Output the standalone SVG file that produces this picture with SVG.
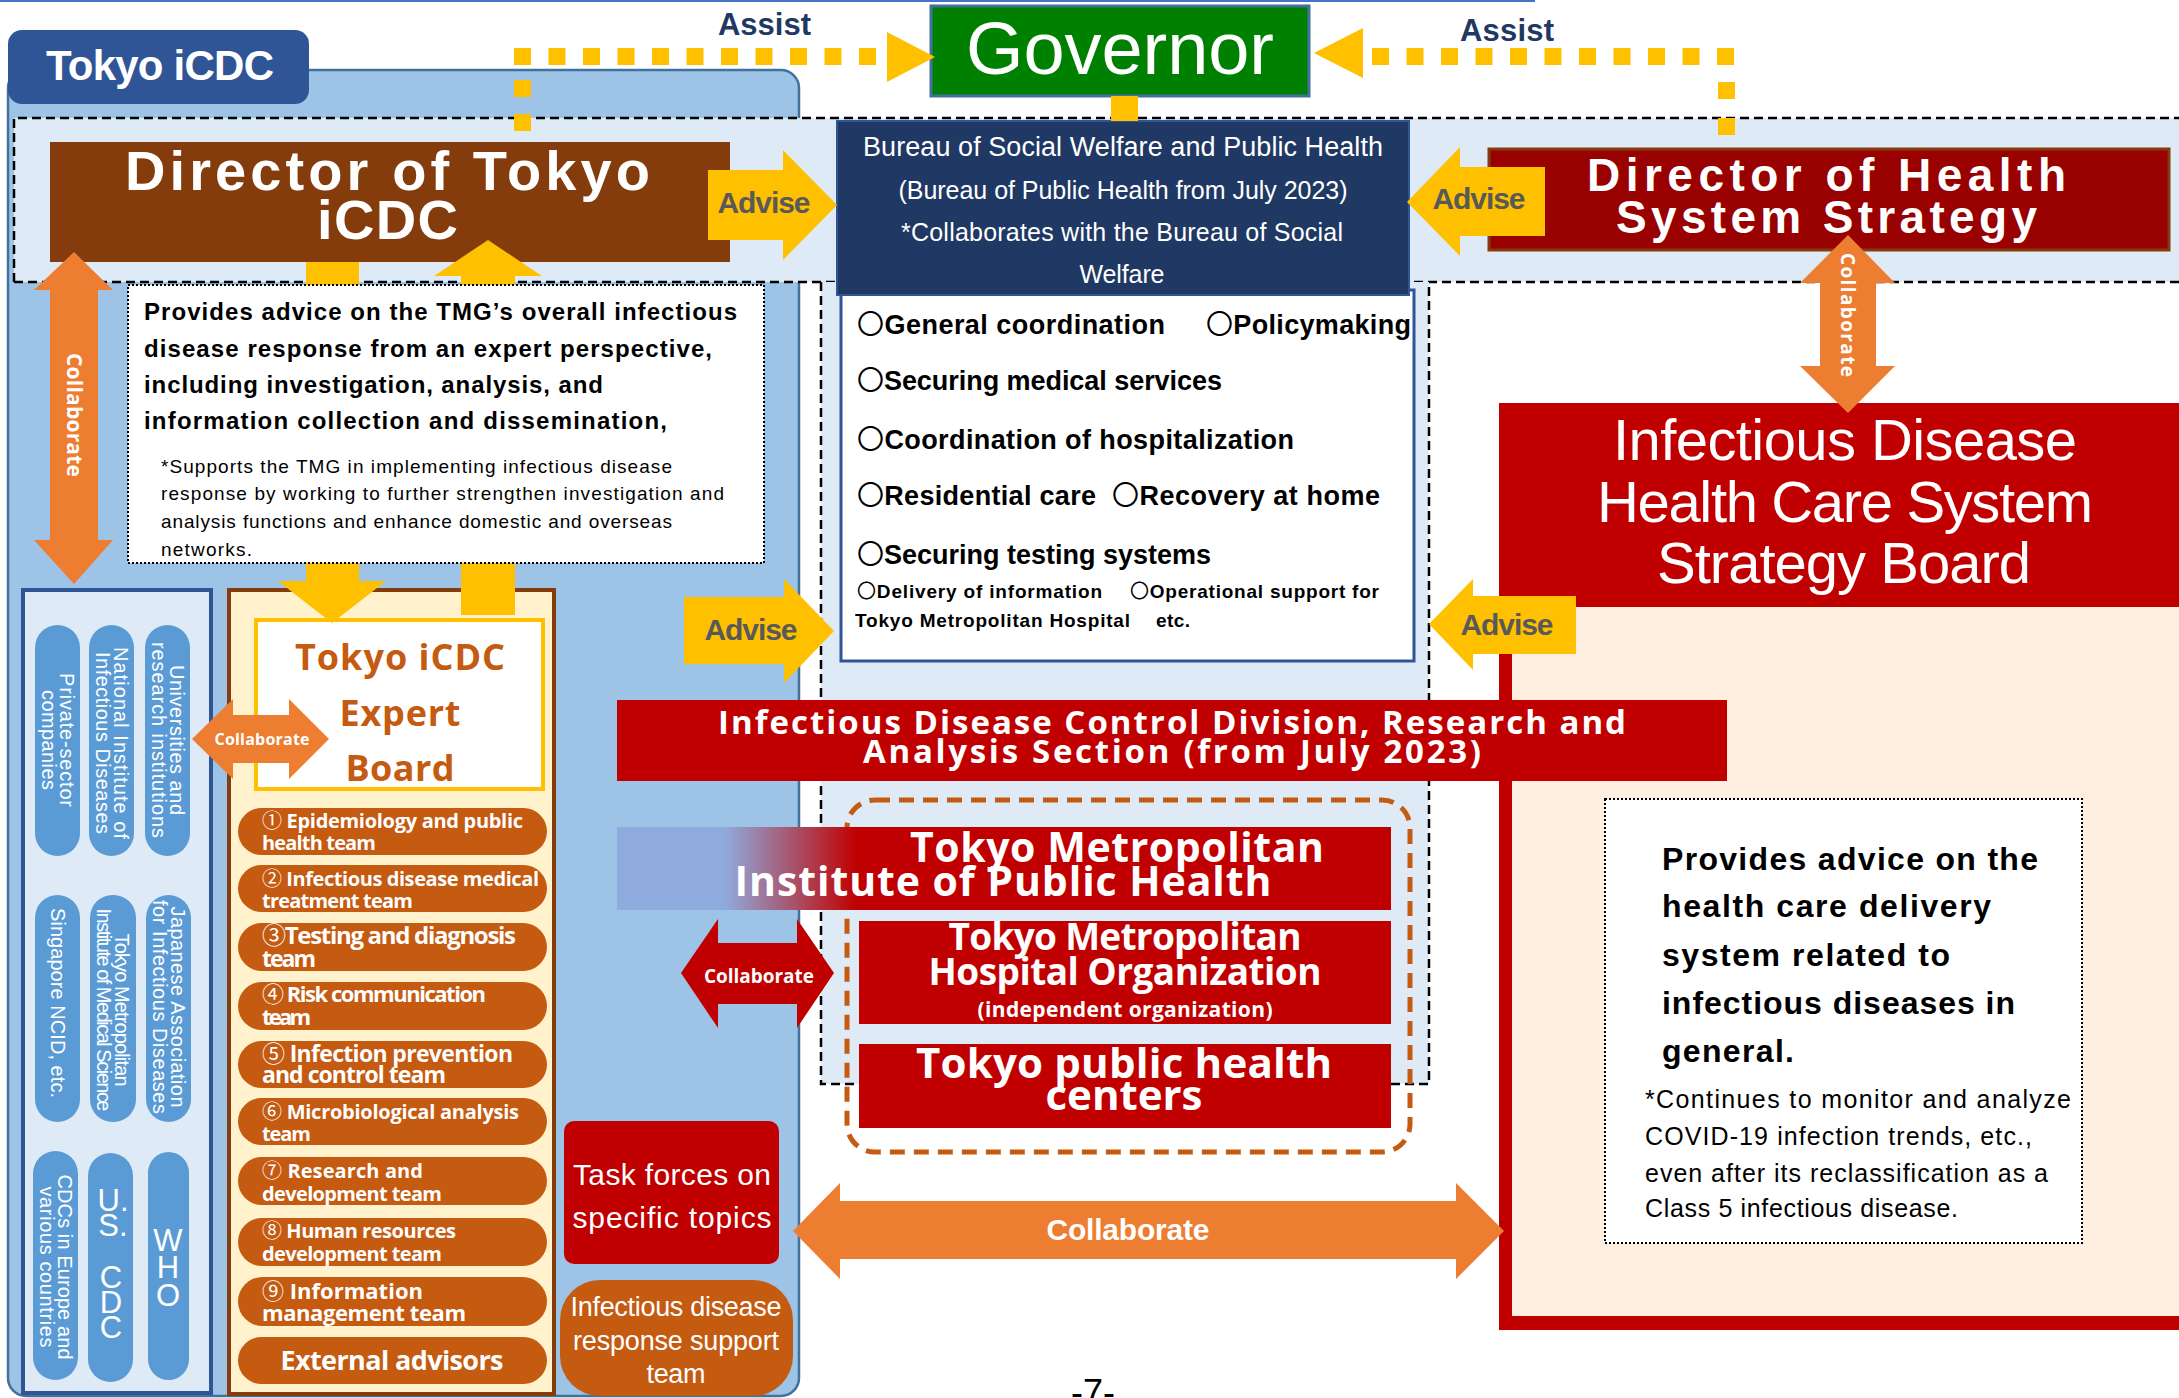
<svg xmlns="http://www.w3.org/2000/svg" width="2179" height="1398" viewBox="0 0 2179 1398">
<defs>
<linearGradient id="instGrad" gradientUnits="userSpaceOnUse" x1="617" y1="0" x2="1391" y2="0">
<stop offset="0" stop-color="#8FAADC"/>
<stop offset="0.14" stop-color="#8FAADC"/>
<stop offset="0.31" stop-color="#C00000"/>
<stop offset="1" stop-color="#C00000"/>
</linearGradient>
<style>
.ls{font-family:"Liberation Sans",Arial,"Noto Sans CJK JP",sans-serif}
.os{font-family:"Open Sans","DejaVu Sans","Noto Sans CJK JP",sans-serif}
.b{font-weight:bold}
.wt{fill:#fff}
.bk{fill:#000}
.mid{text-anchor:middle}
.yel{fill:#FFC000}
.org{fill:#ED7D31}
.red{fill:#C00000}
.ring{font-weight:normal}
.num{font-family:"Noto Sans CJK JP",sans-serif;font-weight:normal}
.adv{font-family:"Liberation Sans",Arial,sans-serif;font-weight:bold;font-size:30px;fill:#595959;text-anchor:middle}
.assist{font-family:"Liberation Sans",Arial,sans-serif;font-weight:bold;font-size:31px;fill:#1F3864}
.dots{fill:none;stroke:#FFC000;stroke-width:17}
.pill{fill:#5B9BD5}
.ptxt{font-family:"Liberation Sans",Arial,sans-serif;font-size:20px;fill:#fff;text-anchor:middle}
.team{fill:#C55A11}
.ttxt{font-family:"Open Sans","DejaVu Sans","Noto Sans CJK JP",sans-serif;font-weight:bold;fill:#fff}
.item{font-family:"Liberation Sans",Arial,"Noto Sans CJK JP",sans-serif;font-weight:bold;font-size:27px;fill:#000}
.small{font-family:"Liberation Sans",Arial,"Noto Sans CJK JP",sans-serif;font-weight:bold;font-size:19px;fill:#000}
.dash{fill:none;stroke:#000;stroke-width:2.5;stroke-dasharray:9 5}
.dotted{stroke:#000;stroke-width:2;stroke-dasharray:2 2}
</style>
</defs>

<!-- page edge line -->
<line x1="0" y1="1" x2="1535" y2="1" stroke="#4472C4" stroke-width="2"/>

<!-- Tokyo iCDC panel and tab -->
<g id="icdc-panel">
<rect x="8" y="70" width="791" height="1326" rx="18" fill="#9DC3E6" stroke="#41719C" stroke-width="2.5"/>
<rect x="8" y="30" width="301" height="74" rx="14" fill="#2F5597"/>
<text class="ls b wt mid" x="160" y="80" font-size="42" textLength="228">Tokyo iCDC</text>
</g>

<!-- dashed top band and central region -->
<g id="band">
<rect x="14" y="118" width="2175" height="164" fill="#DEEBF7"/>
<path class="dash" d="M14 282 V118 H2189 M14 282 H2189"/>
</g>
<g id="central-region">
<rect x="821" y="282" width="608" height="802" fill="#DEEBF7"/>
<path class="dash" d="M821 282 V1084 H1429 V282"/>
</g>

<!-- Governor -->
<g id="governor">
<rect x="931" y="6" width="378" height="90" fill="#008000" stroke="#41719C" stroke-width="3"/>
<text class="ls wt mid" x="1120" y="74" font-size="74" textLength="308">Governor</text>
</g>

<!-- Director of Tokyo iCDC -->
<g id="director-icdc">
<rect x="50" y="142" width="680" height="120" fill="#843C0C"/>
<text class="ls b wt" x="125" y="190" font-size="56" textLength="525">Director of Tokyo</text>
<text class="ls b wt" x="317" y="239" font-size="56" textLength="141">iCDC</text>
</g>

<!-- Partner organizations -->
<g id="partners">
<rect x="23" y="590" width="188" height="803" fill="#DEEBF7" stroke="#2F5597" stroke-width="4"/>
<rect class="pill" x="35" y="625" width="45" height="231" rx="22.5"/>
<rect class="pill" x="89" y="625" width="45" height="231" rx="22.5"/>
<rect class="pill" x="145" y="625" width="45" height="231" rx="22.5"/>
<rect class="pill" x="35" y="895" width="45" height="227" rx="22.5"/>
<rect class="pill" x="90" y="895" width="46" height="227" rx="22.5"/>
<rect class="pill" x="146" y="895" width="45" height="227" rx="22.5"/>
<rect class="pill" x="33" y="1151" width="45" height="229" rx="22.5"/>
<rect class="pill" x="88" y="1153" width="45" height="229" rx="22.5"/>
<rect class="pill" x="148" y="1152" width="41" height="228" rx="20.5"/>
<g transform="translate(57.5,740) rotate(90)">
<text class="ptxt" y="-2" textLength="134">Private-sector</text>
<text class="ptxt" y="16" textLength="100">companies</text>
</g>
<g transform="translate(111.5,743) rotate(90)">
<text class="ptxt" y="-2" textLength="192">National Institute of</text>
<text class="ptxt" y="16" textLength="182">Infectious Diseases</text>
</g>
<g transform="translate(167.5,740) rotate(90)">
<text class="ptxt" y="-2" textLength="150">Universities and</text>
<text class="ptxt" y="16" textLength="196">research institutions</text>
</g>
<g transform="translate(57.5,1003) rotate(90)">
<text class="ptxt" y="7" textLength="190">Singapore NCID, etc.</text>
</g>
<g transform="translate(113,1010) rotate(90)">
<text class="ptxt" y="-2" textLength="153">Tokyo Metropolitan</text>
<text class="ptxt" y="16" textLength="203">Institute of Medical Science</text>
</g>
<g transform="translate(168.5,1007) rotate(90)">
<text class="ptxt" y="-2" textLength="201">Japanese Association</text>
<text class="ptxt" y="16" textLength="214">for Infectious Diseases</text>
</g>
<g transform="translate(55.5,1267) rotate(90)">
<text class="ptxt" y="-2" textLength="185">CDCs in Europe and</text>
<text class="ptxt" y="16" textLength="161">various countries</text>
</g>
<g class="ls wt mid" font-size="31">
<text x="113" y="1211">U.</text>
<text x="113" y="1236">S.</text>
<text x="111" y="1288">C</text>
<text x="111" y="1313">D</text>
<text x="111" y="1338">C</text>
<text x="168" y="1251">W</text>
<text x="168" y="1278">H</text>
<text x="168" y="1306">O</text>
</g>
</g>

<!-- Tokyo iCDC Expert Board -->
<g id="expert-board">
<rect x="229" y="590" width="325" height="804" fill="#FFF2CC" stroke="#843C0C" stroke-width="4"/>
<rect x="256" y="620" width="287" height="169" fill="#fff" stroke="#FFC000" stroke-width="4"/>
<g class="os b mid" fill="#C55A11" font-size="36">
<text x="400" y="670" textLength="210">Tokyo iCDC</text>
<text x="400" y="726" textLength="121">Expert</text>
<text x="400" y="781" textLength="109">Board</text>
</g>
<rect class="team" x="238" y="808" width="309" height="47" rx="23.5"/>
<rect class="team" x="238" y="865" width="309" height="47" rx="23.5"/>
<rect class="team" x="238" y="923" width="309" height="48" rx="24"/>
<rect class="team" x="238" y="982" width="309" height="48" rx="24"/>
<rect class="team" x="238" y="1041" width="309" height="47" rx="23.5"/>
<rect class="team" x="238" y="1098" width="309" height="47" rx="23.5"/>
<rect class="team" x="238" y="1157" width="309" height="48" rx="24"/>
<rect class="team" x="238" y="1218" width="309" height="48" rx="24"/>
<rect class="team" x="238" y="1277" width="309" height="49" rx="24.5"/>
<rect class="team" x="238" y="1337" width="309" height="47" rx="23.5"/>
<g class="ttxt" font-size="20">
<text x="262" y="828" textLength="261"><tspan class="num">①</tspan> Epidemiology and public</text>
<text x="262" y="850" textLength="114">health team</text>
<text x="262" y="886" textLength="277"><tspan class="num">②</tspan> Infectious disease medical</text>
<text x="262" y="908" textLength="151">treatment team</text>
<text x="262" y="944" font-size="24" textLength="254"><tspan class="num">③</tspan>Testing and diagnosis</text>
<text x="262" y="967" font-size="23" textLength="54">team</text>
<text x="262" y="1002" font-size="22" textLength="224"><tspan class="num">④</tspan> Risk communication</text>
<text x="262" y="1025" font-size="22" textLength="49">team</text>
<text x="262" y="1062" font-size="23" textLength="251"><tspan class="num">⑤</tspan> Infection prevention</text>
<text x="262" y="1083" font-size="23" textLength="184">and control team</text>
<text x="262" y="1119" textLength="257"><tspan class="num">⑥</tspan> Microbiological analysis</text>
<text x="262" y="1141" textLength="49">team</text>
<text x="262" y="1178" textLength="161"><tspan class="num">⑦</tspan>  Research and</text>
<text x="262" y="1201" textLength="180">development team</text>
<text x="262" y="1238" textLength="194"><tspan class="num">⑧</tspan> Human resources</text>
<text x="262" y="1261" textLength="180">development team</text>
<text x="262" y="1299" font-size="22" textLength="161"><tspan class="num">⑨</tspan> Information</text>
<text x="262" y="1321" font-size="22" textLength="204">management team</text>
<text x="392" y="1370" font-size="27" text-anchor="middle" textLength="223">External advisors</text>
</g>
</g>

<!-- Task forces on specific topics -->
<g id="task-forces">
<rect class="red" x="564" y="1121" width="215" height="143" rx="10"/>
<text class="ls wt mid" x="672" y="1185" font-size="30" textLength="198">Task forces on</text>
<text class="ls wt mid" x="672" y="1228" font-size="30" textLength="199">specific topics</text>
</g>

<!-- Infectious disease response support team -->
<g id="support-team">
<rect class="team" x="560" y="1280" width="233" height="116" rx="40"/>
<text class="ls wt mid" x="676" y="1316" font-size="27" textLength="211">Infectious disease</text>
<text class="ls wt mid" x="676" y="1350" font-size="27" textLength="206">response support</text>
<text class="ls wt mid" x="676" y="1383" font-size="27" textLength="59">team</text>
</g>

<!-- Bureau of Social Welfare and Public Health -->
<g id="bureau">
<rect x="841" y="290" width="573" height="371" fill="#fff" stroke="#2F5597" stroke-width="3"/>
<rect x="837" y="121" width="572" height="174" fill="#203864" stroke="#2F5597" stroke-width="2"/>
<text class="ls wt mid" x="1123" y="156" font-size="27" textLength="520">Bureau of Social Welfare and Public Health</text>
<text class="ls wt mid" x="1123" y="199" font-size="25" textLength="449">(Bureau of Public Health from July 2023)</text>
<text class="ls wt mid" x="1122" y="241" font-size="25" textLength="442">*Collaborates with the Bureau of Social</text>
<text class="ls wt mid" x="1122" y="283" font-size="25" textLength="85">Welfare</text>
<text class="item" x="857" y="334" textLength="308"><tspan class="ring">〇</tspan>General coordination</text>
<text class="item" x="1206" y="334" textLength="205"><tspan class="ring">〇</tspan>Policymaking</text>
<text class="item" x="857" y="390" textLength="365"><tspan class="ring">〇</tspan>Securing medical services</text>
<text class="item" x="857" y="449" textLength="437"><tspan class="ring">〇</tspan>Coordination of hospitalization</text>
<text class="item" x="857" y="505" textLength="239"><tspan class="ring">〇</tspan>Residential care</text>
<text class="item" x="1112" y="505" textLength="268"><tspan class="ring">〇</tspan>Recovery at home</text>
<text class="item" x="857" y="564" textLength="354"><tspan class="ring">〇</tspan>Securing testing systems</text>
<text class="small" x="857" y="598" textLength="245"><tspan class="ring">〇</tspan>Delivery of information</text>
<text class="small" x="1130" y="598" textLength="249"><tspan class="ring">〇</tspan>Operational support for</text>
<text class="small" x="855" y="627" textLength="275">Tokyo Metropolitan Hospital</text>
<text class="small" x="1156" y="627" textLength="34">etc.</text>
</g>

<!-- Director of Health System Strategy -->
<g id="director-health">
<rect x="1489" y="149" width="680" height="101" fill="#990000" stroke="#843C0C" stroke-width="3"/>
<text class="ls b wt" x="1587" y="191" font-size="46" textLength="479">Director of Health</text>
<text class="ls b wt" x="1616" y="233" font-size="46" textLength="421">System Strategy</text>
</g>

<!-- Infectious Disease Health Care System Strategy Board -->
<g id="strategy-board">
<rect class="red" x="1499" y="403" width="700" height="927"/>
<rect x="1512" y="607" width="687" height="709" fill="#FDEEDF"/>
<text class="ls wt mid" x="1845" y="460" font-size="58" textLength="464">Infectious Disease</text>
<text class="ls wt mid" x="1845" y="522" font-size="58" textLength="496">Health Care System</text>
<text class="ls wt mid" x="1844" y="583" font-size="58" textLength="374">Strategy Board</text>
</g>

<!-- Infectious Disease Control Division -->
<g id="control-division">
<rect class="red" x="617" y="700" width="1110" height="81"/>
<text class="os b wt" x="718" y="734" font-size="33" textLength="908">Infectious Disease Control Division, Research and</text>
<text class="os b wt" x="863" y="763" font-size="33" textLength="618">Analysis Section (from July 2023)</text>
</g>

<!-- outline grouping the affiliated organizations -->
<g id="affiliates-frame">
<rect x="847" y="800" width="563" height="352" rx="28" fill="none" stroke="#C55A11" stroke-width="5" stroke-dasharray="15 9"/>
</g>

<g id="institute">
<rect x="617" y="827" width="774" height="83" fill="url(#instGrad)"/>
<text class="os b wt mid" x="1117" y="862" font-size="41" textLength="414">Tokyo Metropolitan</text>
<text class="os b wt mid" x="1003" y="896" font-size="41" textLength="537">Institute of Public Health</text>
</g>

<g id="hospital-org">
<rect class="red" x="859" y="921" width="532" height="103"/>
<text class="os b wt mid" x="1125" y="950" font-size="37" textLength="353">Tokyo Metropolitan</text>
<text class="os b wt mid" x="1125" y="985" font-size="37" textLength="393">Hospital Organization</text>
<text class="os b wt mid" x="1125" y="1017" font-size="21" textLength="295">(independent organization)</text>
</g>

<g id="health-centers">
<rect class="red" x="859" y="1044" width="532" height="84"/>
<text class="os b wt mid" x="1124" y="1078" font-size="42" textLength="416">Tokyo public health</text>
<text class="os b wt mid" x="1124" y="1110" font-size="42" textLength="157">centers</text>
</g>

<!-- Right advisory note -->
<g id="board-note">
<rect x="1605" y="799" width="477" height="444" fill="#fff" class="dotted"/>
<g class="ls b bk" font-size="32">
<text x="1662" y="870" textLength="376">Provides advice on the</text>
<text x="1662" y="917" textLength="329">health care delivery</text>
<text x="1662" y="966" textLength="288">system related to</text>
<text x="1662" y="1014" textLength="353">infectious diseases in</text>
<text x="1662" y="1062" textLength="132">general.</text>
</g>
<g class="ls bk" font-size="25">
<text x="1645" y="1108" textLength="426">*Continues to monitor and analyze</text>
<text x="1645" y="1145" textLength="387">COVID-19 infection trends, etc.,</text>
<text x="1645" y="1182" textLength="403">even after its reclassification as a</text>
<text x="1645" y="1217" textLength="313">Class 5 infectious disease.</text>
</g>
</g>

<!-- Connectors -->
<g id="connectors">
<!-- Assist (dotted) -->
<path class="dots" d="M514 56.5 H880" stroke-dasharray="17 17.5"/>
<path class="dots" d="M522.5 80 V132" stroke-dasharray="17 17"/>
<polygon class="yel" points="887,32 935,57 887,82"/>
<text class="assist" x="718" y="35" textLength="93">Assist</text>
<path class="dots" d="M1372 56.5 H1735" stroke-dasharray="17 17.5"/>
<path class="dots" d="M1726.5 82 V135" stroke-dasharray="17 19"/>
<polygon class="yel" points="1363,28 1314,53 1363,78"/>
<text class="assist" x="1460" y="41" textLength="94">Assist</text>
<rect class="yel" x="1111" y="96" width="27" height="25"/>

<!-- Director iCDC to Expert Board and back -->
<polygon class="yel" points="306,262 359,262 359,581 386,581 332,623 278,581 306,581"/>
<polygon class="yel" points="461,615 461,276 434,276 488,240 542,276 515,276 515,615"/>

<!-- Advise arrows -->
<polygon class="yel" points="708,170 783,170 783,150 837,205 783,260 783,240 708,240"/>
<text class="adv" x="764" y="213" textLength="93">Advise</text>
<polygon class="yel" points="684,597 784,597 784,579 834,631 784,683 784,664 684,664"/>
<text class="adv" x="751" y="640" textLength="93">Advise</text>
<polygon class="yel" points="1407,202 1460,147 1460,167 1545,167 1545,236 1460,236 1460,256"/>
<text class="adv" x="1479" y="209" textLength="93">Advise</text>
<polygon class="yel" points="1429,624 1473,579 1473,596 1576,596 1576,654 1473,654 1473,670"/>
<text class="adv" x="1507" y="635" textLength="93">Advise</text>

<!-- Collaborate arrows -->
<polygon class="org" points="74,252 113,290 98,290 98,540 113,540 74,584 34,540 50,540 50,290 34,290"/>
<text class="os b wt mid" transform="translate(74,415) rotate(90)" y="7" font-size="21" textLength="124">Collaborate</text>
<polygon class="org" points="1848,235 1895,283 1876,283 1876,366 1895,366 1848,413 1800,366 1820,366 1820,283 1800,283"/>
<text class="os b wt mid" transform="translate(1848,315) rotate(90)" y="7" font-size="19" textLength="124">Collaborate</text>
<polygon class="org" points="192,739 233,699 233,715 289,715 289,699 329,739 289,779 289,763 233,763 233,779"/>
<text class="os b wt mid" x="262" y="745" font-size="16" textLength="95">Collaborate</text>
<polygon class="red" points="681,973 718,919 718,943 797,943 797,919 834,973 797,1028 797,1004 718,1004 718,1028"/>
<text class="os b wt mid" x="759" y="983" font-size="19" textLength="110">Collaborate</text>
<polygon class="org" points="793,1231 840,1183 840,1201 1456,1201 1456,1183 1504,1231 1456,1279 1456,1259 840,1259 840,1279"/>
<text class="ls b wt mid" x="1128" y="1240" font-size="30" textLength="163">Collaborate</text>
</g>

<!-- Expert advice note (sits over the iCDC arrows) -->
<g id="icdc-note">
<rect x="128" y="285" width="636" height="278" fill="#fff" class="dotted"/>
<g class="ls b bk" font-size="24">
<text x="144" y="320" textLength="593">Provides advice on the TMG’s overall infectious</text>
<text x="144" y="357" textLength="568">disease response from an expert perspective,</text>
<text x="144" y="393" textLength="459">including investigation, analysis, and</text>
<text x="144" y="429" textLength="523">information collection and dissemination,</text>
</g>
<g class="ls bk" font-size="19">
<text x="161" y="473" textLength="511">*Supports the TMG in implementing infectious disease</text>
<text x="161" y="500" textLength="563">response by working to further strengthen investigation and</text>
<text x="161" y="528" textLength="511">analysis functions and enhance domestic and overseas</text>
<text x="161" y="556" textLength="91">networks.</text>
</g>
</g>

<!-- page number -->
<text class="ls bk mid" x="1093" y="1405" font-size="36">-7-</text>
</svg>
